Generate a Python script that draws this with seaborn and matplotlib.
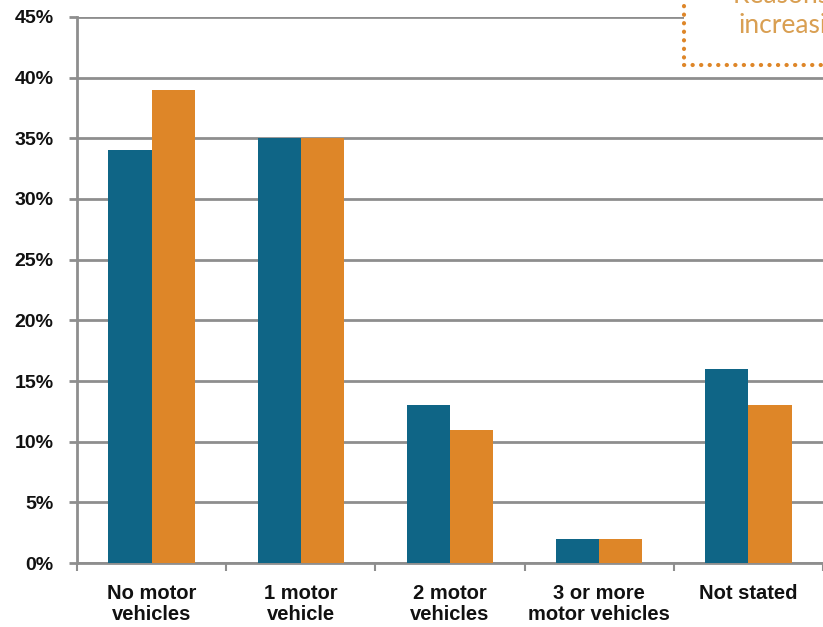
import matplotlib
matplotlib.use("Agg")
import matplotlib.pyplot as plt
from matplotlib.patches import Rectangle
from matplotlib.ticker import FuncFormatter, FixedLocator
import seaborn as sns
import pandas as pd

# Household motor vehicle ownership, share of respondents (%)
categories = ["No motor\nvehicles", "1 motor\nvehicle", "2 motor\nvehicles",
              "3 or more\nmotor vehicles", "Not stated"]
series_names = ["Series 1", "Series 2"]
series_1 = [34, 35, 13, 2, 16]
series_2 = [39, 35, 11, 2, 13]
y_ticks = [0, 5, 10, 15, 20, 25, 30, 35, 40, 45]

df = pd.DataFrame({
    "category": categories * 2,
    "series": [series_names[0]] * len(categories) + [series_names[1]] * len(categories),
    "share": series_1 + series_2,
})

TEAL = "#0f6586"
ORANGE = "#de8628"
GRID = "#8e8e8e"
NOTE = "#d99f52"

sns.set_theme(style="white")
plt.rcParams["font.family"] = ["Liberation Sans", "DejaVu Sans"]

W, H = 823, 627
fig = plt.figure(figsize=(W / 100, H / 100), dpi=100)
ax = fig.add_axes([77 / W, 64 / H, 1 - 77 / W, (563 - 17) / H])

sns.barplot(data=df, x="category", y="share", hue="series", order=categories,
            palette=[TEAL, ORANGE], width=0.58, gap=0, saturation=1,
            linewidth=0, legend=False, ax=ax, zorder=3)

ax.set_xlim(-0.5, len(categories) - 0.5)
ax.set_ylim(0, 45)
ax.set_yticks(y_ticks)
ax.yaxis.set_major_formatter(FuncFormatter(lambda v, p: f"{v:.0f}%"))
ax.grid(axis="y", color=GRID, linewidth=2, zorder=0)
ax.set_xlabel("")
ax.set_ylabel("")

for side in ["top", "right"]:
    ax.spines[side].set_visible(False)
for side in ["left", "bottom"]:
    ax.spines[side].set_color(GRID)
    ax.spines[side].set_linewidth(2)

ax.tick_params(axis="y", which="major", left=True, length=6, width=2, color=GRID,
               pad=11, labelsize=14)
ax.tick_params(axis="x", which="major", bottom=False, length=0, pad=15, labelsize=14.5)
for lab in ax.get_yticklabels() + ax.get_xticklabels():
    lab.set_fontweight("bold")
    lab.set_color("#111111")
for lab in ax.get_xticklabels():
    lab.set_linespacing(1.17)

# separators between the category groups
ax.xaxis.set_minor_locator(FixedLocator([i - 0.5 for i in range(len(categories) + 1)]))
ax.tick_params(axis="x", which="minor", bottom=True, length=6, width=1.5,
               color=GRID, direction="out")

# callout box in the top right corner
box = Rectangle((684 / W, (H - 65) / H), 0.2, 0.2, transform=fig.transFigure,
                facecolor="white", edgecolor=ORANGE, linewidth=3,
                linestyle=(0, (0.05, 2.0)), capstyle="round", zorder=10)
fig.patches.append(box)
fig.text(733 / W, (H - 3) / H, "Reasons for", transform=fig.transFigure,
         ha="left", va="baseline", fontsize=19, color=NOTE,
         family=["Lato", "DejaVu Sans"], fontweight="normal", zorder=11)
fig.text(739 / W, (H - 33) / H, "increasing", transform=fig.transFigure,
         ha="left", va="baseline", fontsize=19, color=NOTE,
         family=["Lato", "DejaVu Sans"], fontweight="normal", zorder=11)

fig.savefig("out.png", dpi=100)
